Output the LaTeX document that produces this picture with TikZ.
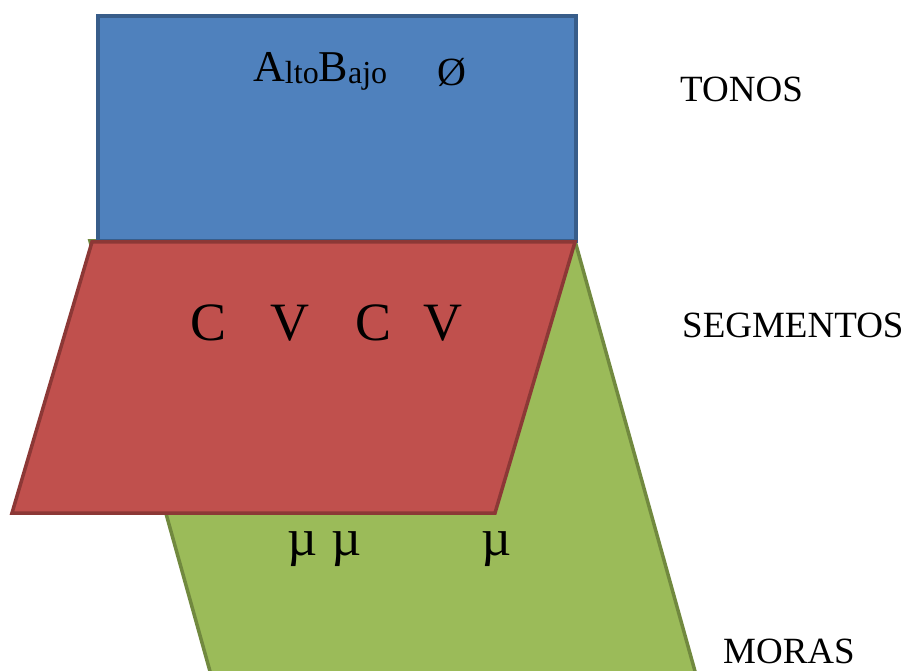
\documentclass[tikz,border=0pt]{standalone}
\usepackage{fontspec}
\setmainfont{Liberation Serif}
\definecolor{tonoblue}{HTML}{4F81BD}
\definecolor{tonoedge}{HTML}{385D8A}
\definecolor{segred}{HTML}{C0504D}
\definecolor{segedge}{HTML}{8C3836}
\definecolor{moragreen}{HTML}{9BBB59}
\definecolor{moraedge}{HTML}{71893F}
\newcommand{\Fs}[1]{\fontsize{#1}{#1}\selectfont}
\tikzset{
  lay/.style={line width=3.5pt,line join=miter},
  txt/.style={inner sep=0pt,anchor=base west}
}

\begin{document}
\begin{tikzpicture}[x=1pt,y=-1pt]
    \useasboundingbox (0,0) rectangle (908,671);
    \clip (0,0) rectangle (908,671);
    \draw[lay,draw=moraedge,fill=moragreen] (90,241) -- (575,241) -- (703,700) -- (218,700) -- cycle;
    \draw[lay,draw=tonoedge,fill=tonoblue] (98,16) rectangle (576,241);
    \draw[lay,draw=segedge,fill=segred] (92,242) -- (575,242) -- (495,513) -- (12,513) -- cycle;

    \node[txt] (alto) at (253,82) {\Fs{44}A\raisebox{-2pt}{\Fs{32}lto}B\raisebox{-2pt}{\Fs{32}ajo}};
    \node[txt] (cero) at (437,86) {\Fs{40}Ø};

    \node[txt] (c1) at (190,340) {\Fs{54}C};
    \node[txt] (v1) at (270,340) {\Fs{54}V};
    \node[txt] (c2) at (355,340) {\Fs{54}C};
    \node[txt] (v2) at (423,340) {\Fs{54}V};

    \node[txt] (mu1) at (287,555) {\Fs{52}µ};
    \node[txt] (mu2) at (331,555) {\Fs{52}µ};
    \node[txt] (mu3) at (481,555) {\Fs{52}µ};

    \node[txt] (tonos) at (680,102) {\Fs{37}TONOS};
    \node[txt] (segm) at (682,337) {\Fs{37}SEGMENTOS};
    \node[txt] (moras) at (723,663) {\Fs{37}MORAS};
\end{tikzpicture}
\end{document}
